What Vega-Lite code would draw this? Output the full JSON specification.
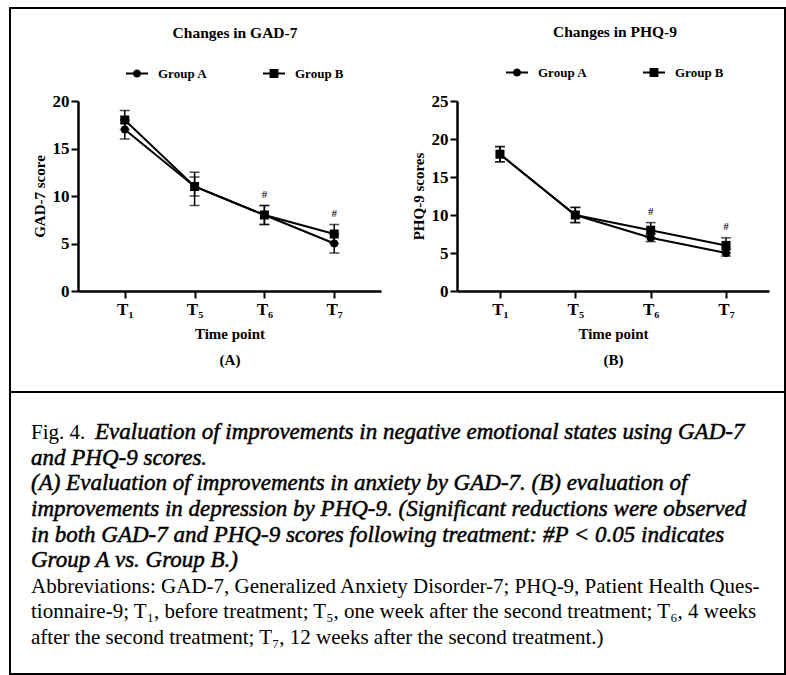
{
  "$schema": "https://vega.github.io/schema/vega-lite/v6.json",
  "padding": {"left": 9, "top": 7, "right": 0, "bottom": 0},
  "background": "white",
  "spacing": 0,
  "bounds": "flush",
  "config": {
    "font": "Liberation Serif",
    "axis": {"labelFont": "Liberation Serif", "titleFont": "Liberation Serif", "labelFontWeight": "bold", "titleFontWeight": "bold", "labelColor": "black", "titleColor": "black", "domainColor": "black", "tickColor": "black", "grid": false, "domainWidth": 2.5, "tickWidth": 2, "tickSize": 7},
    "legend": {"labelFont": "Liberation Serif", "titleFont": "Liberation Serif", "labelFontWeight": "bold", "titleFontWeight": "bold", "labelColor": "black", "titleColor": "black"},
    "text": {"font": "Liberation Serif", "color": "black"}
  },
  "datasets": {
    "gad": [
      {"time": "T₁", "group": "Group A", "mean": 17, "lo": 16, "hi": 18, "sig": ""},
      {"time": "T₅", "group": "Group A", "mean": 11, "lo": 9, "hi": 12.5, "sig": ""},
      {"time": "T₆", "group": "Group A", "mean": 8, "lo": 7, "hi": 9, "sig": ""},
      {"time": "T₇", "group": "Group A", "mean": 5, "lo": 4, "hi": 6, "sig": ""},
      {"time": "T₁", "group": "Group B", "mean": 18, "lo": 17, "hi": 19, "sig": ""},
      {"time": "T₅", "group": "Group B", "mean": 11, "lo": 10, "hi": 12, "sig": ""},
      {"time": "T₆", "group": "Group B", "mean": 8, "lo": 7, "hi": 9, "sig": "#"},
      {"time": "T₇", "group": "Group B", "mean": 6, "lo": 5, "hi": 7, "sig": "#"}
    ],
    "phq": [
      {"time": "T₁", "group": "Group A", "mean": 18, "lo": 17, "hi": 19, "sig": ""},
      {"time": "T₅", "group": "Group A", "mean": 10, "lo": 9, "hi": 11, "sig": ""},
      {"time": "T₆", "group": "Group A", "mean": 7, "lo": 6.5, "hi": 7.5, "sig": ""},
      {"time": "T₇", "group": "Group A", "mean": 5, "lo": 4.6, "hi": 5.4, "sig": ""},
      {"time": "T₁", "group": "Group B", "mean": 18, "lo": 17, "hi": 19, "sig": ""},
      {"time": "T₅", "group": "Group B", "mean": 10, "lo": 9, "hi": 11, "sig": ""},
      {"time": "T₆", "group": "Group B", "mean": 8, "lo": 7, "hi": 9, "sig": "#"},
      {"time": "T₇", "group": "Group B", "mean": 6, "lo": 5, "hi": 7, "sig": "#"}
    ],
    "caption": [
      {"line": 1, "part": "label", "text": "Fig. 4."},
      {"line": 1, "part": "heading", "text": "Evaluation of improvements in negative emotional states using GAD-7"},
      {"line": 2, "part": "heading", "text": "and PHQ-9 scores."},
      {"line": 3, "part": "heading", "text": "(A) Evaluation of improvements in anxiety by GAD-7. (B) evaluation of"},
      {"line": 4, "part": "heading", "text": "improvements in depression by PHQ-9. (Significant reductions were observed"},
      {"line": 5, "part": "heading", "text": "in both GAD-7 and PHQ-9 scores following treatment: #P < 0.05 indicates"},
      {"line": 6, "part": "heading", "text": "Group A vs. Group B.)"},
      {"line": 7, "part": "abbrev", "text": "Abbreviations: GAD-7, Generalized Anxiety Disorder-7; PHQ-9, Patient Health Ques-"},
      {"line": 8, "part": "abbrev", "text": "tionnaire-9; T₁, before treatment; T₅, one week after the second treatment; T₆, 4 weeks"},
      {"line": 9, "part": "abbrev", "text": "after the second treatment; T₇, 12 weeks after the second treatment.)"}
    ]
  },
  "vconcat": [
    {
      "width": 775,
      "height": 384,
      "view": {"stroke": "black", "strokeWidth": 2},
      "resolve": {
        "scale": {"x": "independent", "y": "independent", "shape": "independent"},
        "axis": {"x": "independent", "y": "independent"},
        "legend": {"shape": "independent"}
      },
      "layer": [
        {
          "data": {"name": "gad"},
          "encoding": {
            "x": {"field": "time", "type": "ordinal", "sort": ["T₁", "T₅", "T₆", "T₇"], "title": ["Time point", "(A)"], "scale": {"type": "point", "range": [68, 371], "padding": 0.67}, "axis": {"orient": "bottom", "offset": -101, "labelAngle": 0, "labelFontSize": 17, "labelPadding": 3, "titleFontSize": 15, "titlePadding": 9, "titleLineHeight": 26}},
            "y": {"field": "mean", "type": "quantitative", "title": "GAD-7 score", "scale": {"domain": [0, 20], "range": [283, 93], "nice": false, "zero": false}, "axis": {"orient": "left", "offset": -68, "values": [0, 5, 10, 15, 20], "labelFontSize": 17, "labelPadding": 2, "titleFontSize": 15, "titlePadding": 5}}
          },
          "layer": [
            {"mark": {"type": "line", "color": "black", "strokeWidth": 2}, "encoding": {"detail": {"field": "group"}}},
            {"mark": {"type": "rule", "color": "black", "strokeWidth": 1.5}, "encoding": {"y": {"field": "lo", "type": "quantitative", "title": "GAD-7 score"}, "y2": {"field": "hi"}}},
            {"mark": {"type": "tick", "color": "black", "size": 10, "thickness": 1.5}, "encoding": {"y": {"field": "lo", "type": "quantitative", "title": "GAD-7 score"}}},
            {"mark": {"type": "tick", "color": "black", "size": 10, "thickness": 1.5}, "encoding": {"y": {"field": "hi", "type": "quantitative", "title": "GAD-7 score"}}},
            {"transform": [{"filter": "datum.group == 'Group A'"}], "mark": {"type": "point", "shape": "circle", "filled": true, "color": "black", "size": 64, "opacity": 1}},
            {"transform": [{"filter": "datum.group == 'Group B'"}], "mark": {"type": "point", "shape": "square", "filled": true, "color": "black", "size": 81, "opacity": 1}},
            {"transform": [{"filter": "datum.sig != ''"}], "mark": {"type": "text", "dy": -11, "fontSize": 11, "fontWeight": "bold", "color": "#333333"}, "encoding": {"y": {"field": "hi", "type": "quantitative", "title": "GAD-7 score"}, "text": {"field": "sig"}}},
            {
              "mark": {"type": "point", "filled": true, "opacity": 0, "size": 484, "color": "black"},
              "encoding": {
                "shape": {"field": "group", "type": "nominal", "scale": {"domain": ["Group A", "Group B"], "range": ["M-1,-0.1L1,-0.1L1,0.1L-1,0.1ZM-0.37,0A0.37,0.37,0,1,1,0.37,0A0.37,0.37,0,1,1,-0.37,0Z", "M-1,-0.1L1,-0.1L1,0.1L-1,0.1ZM-0.4,-0.4L0.4,-0.4L0.4,0.4L-0.4,0.4Z"]},
                  "legend": {"title": "Changes in GAD-7", "orient": "none", "legendX": 116, "legendY": 18, "direction": "horizontal", "titleAnchor": "middle", "titleFontSize": 15.5, "titlePadding": 21, "labelFontSize": 13, "labelOffset": 10, "columnPadding": 55, "symbolSize": 484, "symbolStrokeWidth": 0, "symbolOpacity": 1, "symbolFillColor": "black",
                    "encode": {"symbols": {"update": {"opacity": {"value": 1}, "fill": {"value": "black"}, "fillOpacity": {"value": 1}, "strokeWidth": {"value": 0}}}}}
                }
              }
            }
          ]
        },
        {
          "data": {"name": "phq"},
          "encoding": {
            "x": {"field": "time", "type": "ordinal", "sort": ["T₁", "T₅", "T₆", "T₇"], "title": ["Time point", "(B)"], "scale": {"type": "point", "range": [447, 759], "padding": 0.57}, "axis": {"orient": "bottom", "offset": -101, "labelAngle": 0, "labelFontSize": 17, "labelPadding": 3, "titleFontSize": 15, "titlePadding": 9, "titleLineHeight": 26}},
            "y": {"field": "mean", "type": "quantitative", "title": "PHQ-9 scores", "scale": {"domain": [0, 25], "range": [283, 93], "nice": false, "zero": false}, "axis": {"orient": "left", "offset": -447, "values": [0, 5, 10, 15, 20, 25], "labelFontSize": 17, "labelPadding": 2, "titleFontSize": 15, "titlePadding": 5}}
          },
          "layer": [
            {"mark": {"type": "line", "color": "black", "strokeWidth": 2}, "encoding": {"detail": {"field": "group"}}},
            {"mark": {"type": "rule", "color": "black", "strokeWidth": 1.5}, "encoding": {"y": {"field": "lo", "type": "quantitative", "title": "PHQ-9 scores"}, "y2": {"field": "hi"}}},
            {"mark": {"type": "tick", "color": "black", "size": 10, "thickness": 1.5}, "encoding": {"y": {"field": "lo", "type": "quantitative", "title": "PHQ-9 scores"}}},
            {"mark": {"type": "tick", "color": "black", "size": 10, "thickness": 1.5}, "encoding": {"y": {"field": "hi", "type": "quantitative", "title": "PHQ-9 scores"}}},
            {"transform": [{"filter": "datum.group == 'Group A'"}], "mark": {"type": "point", "shape": "circle", "filled": true, "color": "black", "size": 64, "opacity": 1}},
            {"transform": [{"filter": "datum.group == 'Group B'"}], "mark": {"type": "point", "shape": "square", "filled": true, "color": "black", "size": 81, "opacity": 1}},
            {"transform": [{"filter": "datum.sig != ''"}], "mark": {"type": "text", "dy": -11, "fontSize": 11, "fontWeight": "bold", "color": "#333333"}, "encoding": {"y": {"field": "hi", "type": "quantitative", "title": "PHQ-9 scores"}, "text": {"field": "sig"}}},
            {
              "mark": {"type": "point", "filled": true, "opacity": 0, "size": 484, "color": "black"},
              "encoding": {
                "shape": {"field": "group", "type": "nominal", "scale": {"domain": ["Group A", "Group B"], "range": ["M-1,-0.1L1,-0.1L1,0.1L-1,0.1ZM-0.37,0A0.37,0.37,0,1,1,0.37,0A0.37,0.37,0,1,1,-0.37,0Z", "M-1,-0.1L1,-0.1L1,0.1L-1,0.1ZM-0.4,-0.4L0.4,-0.4L0.4,0.4L-0.4,0.4Z"]},
                  "legend": {"title": "Changes in PHQ-9", "orient": "none", "legendX": 496, "legendY": 17, "direction": "horizontal", "titleAnchor": "middle", "titleFontSize": 15.5, "titlePadding": 21, "labelFontSize": 13, "labelOffset": 10, "columnPadding": 55, "symbolSize": 484, "symbolStrokeWidth": 0, "symbolOpacity": 1, "symbolFillColor": "black",
                    "encode": {"symbols": {"update": {"opacity": {"value": 1}, "fill": {"value": "black"}, "fillOpacity": {"value": 1}, "strokeWidth": {"value": 0}}}}}
                }
              }
            }
          ]
        }
      ]
    },
    {
      "width": 775,
      "height": 282,
      "view": {"stroke": "black", "strokeWidth": 2},
      "data": {"name": "caption"},
      "encoding": {
        "y": {"field": "line", "type": "quantitative", "scale": {"domain": [-0.84, 10.17], "reverse": true, "nice": false, "zero": false}, "axis": null},
        "x": {"datum": 0, "type": "quantitative", "scale": {"domain": [0, 1]}, "axis": null},
        "text": {"field": "text"}
      },
      "layer": [
        {"transform": [{"filter": "datum.part == 'label'"}], "mark": {"type": "text", "align": "left", "baseline": "alphabetic", "dx": 21, "fontSize": 21, "font": "Liberation Serif"}},
        {"transform": [{"filter": "datum.part == 'heading' && datum.line == 1"}], "mark": {"type": "text", "align": "left", "baseline": "alphabetic", "dx": 85, "fontSize": 23, "fontStyle": "italic", "stroke": "black", "strokeWidth": 0.5, "font": "Liberation Serif"}},
        {"transform": [{"filter": "datum.part == 'heading' && datum.line > 1"}], "mark": {"type": "text", "align": "left", "baseline": "alphabetic", "dx": 21, "fontSize": 23, "fontStyle": "italic", "stroke": "black", "strokeWidth": 0.5, "font": "Liberation Serif"}},
        {"transform": [{"filter": "datum.part == 'abbrev'"}], "mark": {"type": "text", "align": "left", "baseline": "alphabetic", "dx": 21, "fontSize": 21, "font": "Liberation Serif"}}
      ]
    }
  ]
}
